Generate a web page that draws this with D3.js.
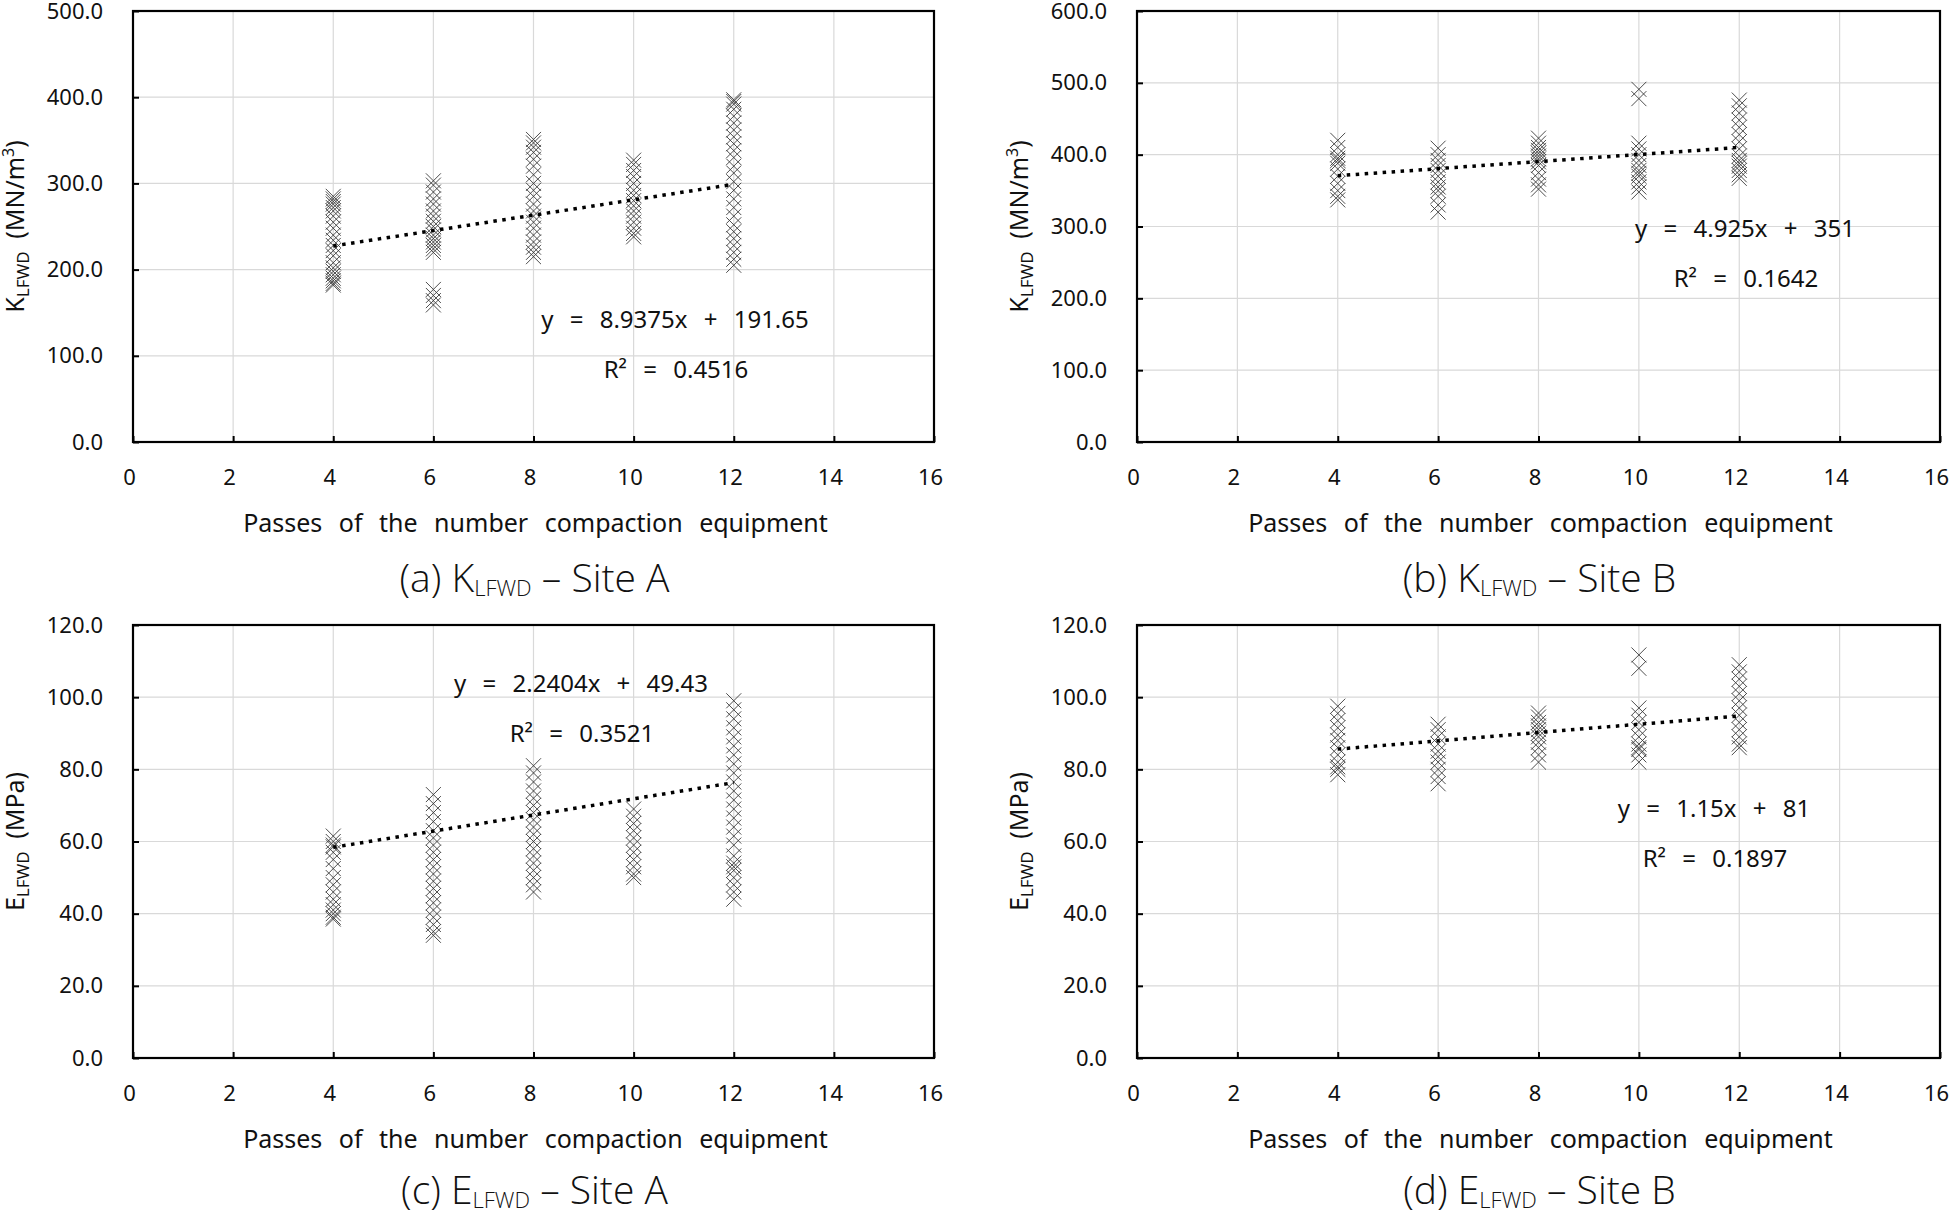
<!DOCTYPE html>
<html>
<head>
<meta charset="utf-8">
<script src="https://cdn.jsdelivr.net/npm/d3@7"></script>
<style>
body { margin: 0; background: #fff; }
svg text { fill: #111; }
</style>
</head>
<body>
<script>
// x axis
const xTicks = [0, 2, 4, 6, 8, 10, 12, 14, 16];
const passes = [4, 6, 8, 10, 12];

// measured values, one list per number of passes (4, 6, 8, 10, 12)
const kSiteA = [
  [285, 282, 279, 276, 272, 268, 262, 255, 248, 240, 234, 228, 222, 216, 208, 202, 198, 194, 190, 187, 184, 182],
  [303, 298, 290, 282, 276, 268, 262, 256, 250, 246, 240, 236, 232, 228, 224, 220, 177, 170, 164, 159],
  [351, 347, 342, 336, 328, 320, 310, 300, 292, 285, 276, 268, 262, 255, 248, 240, 232, 226, 220, 215],
  [327, 322, 315, 308, 300, 292, 286, 280, 274, 268, 262, 255, 248, 242, 238],
  [397, 395, 392, 386, 378, 370, 362, 354, 346, 338, 330, 320, 312, 302, 292, 282, 272, 262, 252, 244, 236, 228, 220, 212, 205]
];
const kSiteB = [
  [420, 410, 400, 395, 392, 388, 380, 370, 360, 350, 342, 337],
  [409, 400, 392, 385, 378, 370, 362, 355, 350, 342, 330, 320],
  [423, 416, 410, 406, 402, 398, 394, 390, 385, 375, 366, 358, 352],
  [491, 478, 416, 408, 400, 392, 385, 378, 374, 370, 362, 355, 348],
  [476, 468, 458, 448, 438, 428, 418, 408, 398, 392, 388, 384, 378, 372, 367]
];
const eSiteA = [
  [61.5, 60, 59, 58.5, 57, 55, 52.5, 50, 48, 46, 44, 42.5, 41, 40, 39, 38.5],
  [73, 70.5, 68, 65.5, 63, 61, 59, 57, 55, 53, 51, 49, 47, 45, 43, 41, 39, 37, 35, 34],
  [81, 79, 76.5, 74, 72, 70, 68, 66, 64, 62, 60, 58, 56, 54, 52, 50, 48, 46],
  [69, 67, 65, 63, 61, 59, 57, 55, 53, 51, 50],
  [99, 96.5, 94, 91.5, 89, 86.5, 84, 81.5, 79, 76.5, 74, 71.5, 69, 66.5, 64, 61.5, 59, 56, 54, 53, 52, 50, 48, 46, 44]
];
const eSiteB = [
  [97.5, 95.5, 93.5, 91.5, 89.5, 88, 86, 84, 82, 80.7, 80, 78.5],
  [92.5, 91, 89, 87, 85, 83.5, 82, 80, 78, 76],
  [95.6, 94.5, 93, 92, 91, 90, 89, 87.5, 86, 84, 82],
  [111.7, 108, 97, 95, 93, 91, 89, 87, 86, 85.5, 84, 82],
  [109, 107, 105, 103, 101, 99, 97, 95, 93, 91, 89, 87, 86]
];

// y axes
const yMaxes = [500, 600, 120, 120];
const yStepSizes = [100, 100, 20, 20];

// linear trend lines (from the chart labels)
const trendSlopes = [8.9375, 4.925, 2.2404, 1.15];
const trendIntercepts = [191.65, 351, 49.43, 81];
const eqLabels = ["y = 8.9375x + 191.65", "y = 4.925x + 351", "y = 2.2404x + 49.43", "y = 1.15x + 81"];
const r2Labels = ["0.4516", "0.1642", "0.3521", "0.1897"];

// captions
const captionLetters = ["(a)", "(b)", "(c)", "(d)"];
const captionVars = ["K", "K", "E", "E"];
const captionSites = ["Site A", "Site B", "Site A", "Site B"];
const yUnits = ["(MN/m", "(MN/m", "(MPa)", "(MPa)"];
const xTitle = "Passes of the number compaction equipment";

const seriesList = [kSiteA, kSiteB, eSiteA, eSiteB];

// panel boxes (pixels)
const boxes = [
  {left: 133, top: 11, right: 934, bottom: 442},
  {left: 1137, top: 11, right: 1940, bottom: 442},
  {left: 133, top: 625, right: 934, bottom: 1058},
  {left: 1137, top: 625, right: 1940, bottom: 1058}
];
// equation label anchor, relative to plot box (centre x, baseline y)
const eqPos = [[542, 317], [608, 226], [448, 67], [577, 192]];
const captionGap = [150, 150, 146, 146];

const svg = d3.select("body").append("svg")
  .attr("width", 1951)
  .attr("height", 1211);

const sans = "'Noto Sans', 'Noto Sans CJK KR', sans-serif";

seriesList.forEach((series, i) => {
  const b = boxes[i];
  const w = b.right - b.left, h = b.bottom - b.top;
  const g = svg.append("g").attr("transform", `translate(${b.left},${b.top})`);

  const x = d3.scaleLinear().domain([0, 16]).range([0, w]);
  const y = d3.scaleLinear().domain([0, yMaxes[i]]).range([h, 0]);
  const yTicks = d3.range(0, yMaxes[i] + 0.001, yStepSizes[i]);

  // grid
  g.append("g").selectAll("line").data(xTicks.slice(1, -1)).enter().append("line")
    .attr("x1", d => x(d)).attr("x2", d => x(d))
    .attr("y1", 0).attr("y2", h)
    .attr("stroke", "#d9d9d9").attr("stroke-width", 1.2);
  g.append("g").selectAll("line").data(yTicks.slice(1, -1)).enter().append("line")
    .attr("x1", 0).attr("x2", w)
    .attr("y1", d => y(d)).attr("y2", d => y(d))
    .attr("stroke", "#d9d9d9").attr("stroke-width", 1.2);

  // axes with inward ticks
  const xAxis = g.append("g").attr("transform", `translate(0,${h})`)
    .call(d3.axisBottom(x).tickValues(xTicks).tickSizeInner(-6).tickSizeOuter(0).tickPadding(27));
  const yAxis = g.append("g")
    .call(d3.axisLeft(y).tickValues(yTicks).tickSizeInner(-6).tickSizeOuter(0).tickPadding(30).tickFormat(d3.format(".1f")));
  [xAxis, yAxis].forEach(a => {
    a.select(".domain").remove();
    a.selectAll(".tick line").attr("stroke", "#000").attr("stroke-width", 2);
    a.selectAll("text").attr("font-family", sans).attr("font-size", 22).attr("fill", "#111");
  });
  xAxis.selectAll("text").attr("dx", -4);

  // frame
  g.append("rect").attr("width", w).attr("height", h)
    .attr("fill", "none").attr("stroke", "#000").attr("stroke-width", 2.2);

  // markers (x shapes)
  const pts = [];
  series.forEach((vals, k) => vals.forEach(v => pts.push({p: passes[k], v: v})));
  const s = 7.5;
  g.append("g").selectAll("path").data(pts).enter().append("path")
    .attr("d", d => {
      const cx = x(d.p), cy = y(d.v);
      return `M${cx - s},${cy - s}L${cx + s},${cy + s}M${cx - s},${cy + s}L${cx + s},${cy - s}`;
    })
    .attr("fill", "none").attr("stroke", "#3a3a3a").attr("stroke-width", 0.9);

  // trend line
  const line = d3.line().x(d => x(d)).y(d => y(trendSlopes[i] * d + trendIntercepts[i]));
  g.append("path").datum([passes[0], passes[passes.length - 1]])
    .attr("d", line)
    .attr("fill", "none").attr("stroke", "#000").attr("stroke-width", 3.5)
    .attr("stroke-dasharray", "3.5 5.5");

  // equation text
  const [ex, ey] = eqPos[i];
  g.append("text").attr("x", ex).attr("y", ey).attr("text-anchor", "middle")
    .attr("font-family", sans).attr("font-size", 24).attr("word-spacing", 10)
    .text(eqLabels[i]);
  g.append("text").attr("x", ex + 1).attr("y", ey + 50).attr("text-anchor", "middle")
    .attr("font-family", sans).attr("font-size", 24).attr("word-spacing", 10)
    .text("R\u00b2 = " + r2Labels[i]);

  // x title
  g.append("text").attr("x", w / 2 + 2).attr("y", h + 90).attr("text-anchor", "middle")
    .attr("font-family", sans).attr("font-size", 25).attr("word-spacing", 10)
    .text(xTitle);

  // y title
  const yt = svg.append("text")
    .attr("transform", `translate(${b.left - 109},${b.top + h / 2}) rotate(-90)`)
    .attr("text-anchor", "middle")
    .attr("font-family", sans).attr("font-size", 25);
  yt.append("tspan").text(captionVars[i]);
  yt.append("tspan").attr("font-size", 17).attr("dy", 5).text("LFWD");
  yt.append("tspan").attr("dy", -5).text("\u2002" + yUnits[i]);
  if (i < 2) {
    yt.append("tspan").attr("font-size", 16).attr("dy", -10).text("3");
    yt.append("tspan").attr("dy", 10).text(")");
  }

  // caption
  const cap = g.append("text").attr("x", w / 2 + 1).attr("y", h + captionGap[i]).attr("text-anchor", "middle")
    .attr("font-family", "'Open Sans', sans-serif").attr("font-weight", 300)
    .attr("font-size", 39);
  cap.append("tspan").text(captionLetters[i] + " " + captionVars[i]);
  cap.append("tspan").attr("font-size", 22).attr("dy", 4).text("LFWD");
  cap.append("tspan").attr("dy", -4).text(" \u2013 " + captionSites[i]);
});
</script>
</body>
</html>
